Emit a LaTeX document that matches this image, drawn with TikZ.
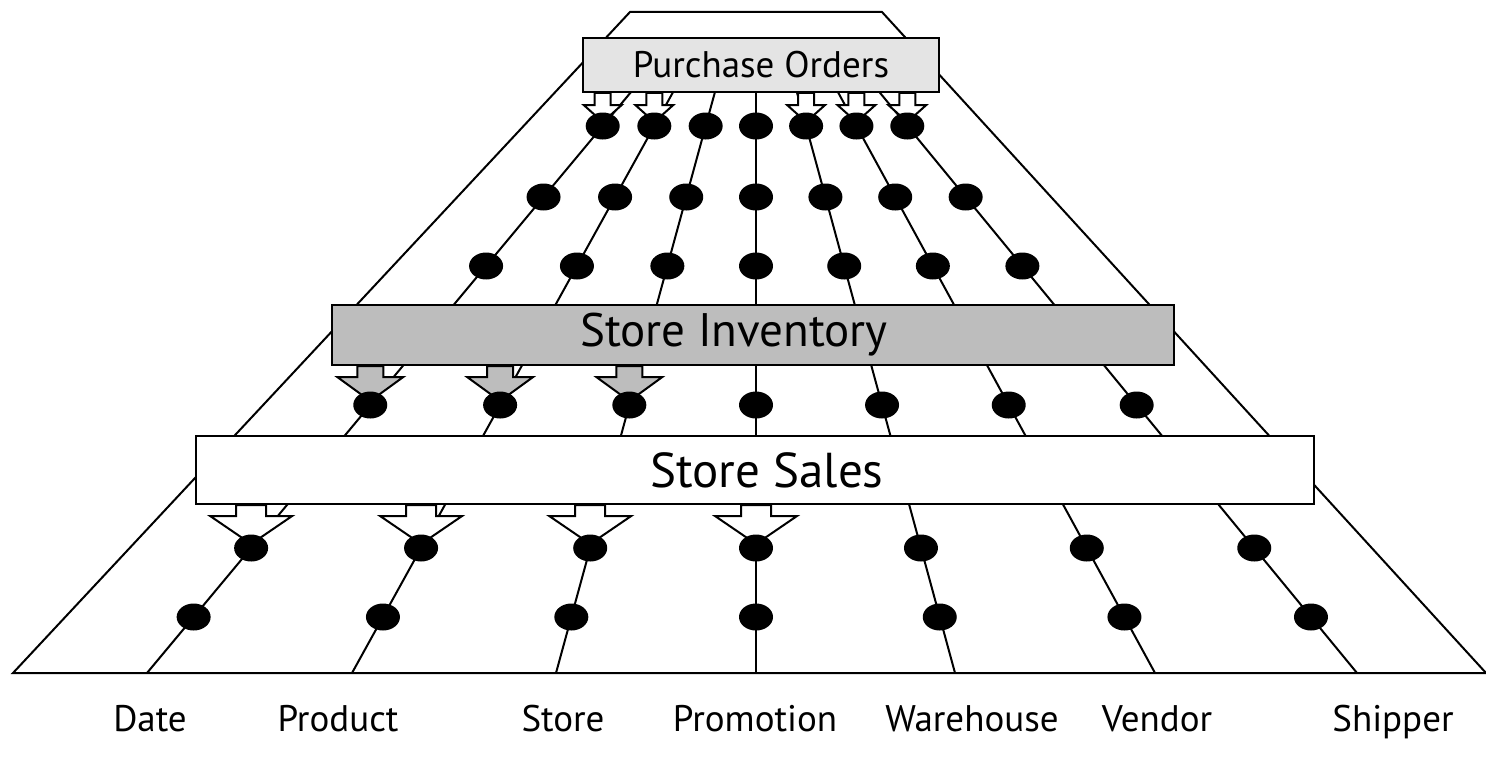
\documentclass[tikz,border=0pt]{standalone}
\usepackage{fontspec}
\setmainfont{PT Sans}
\usetikzlibrary{calc,shapes.geometric}

\definecolor{pogray}{HTML}{E4E4E4}
\definecolor{sigray}{HTML}{BDBDBD}

% block arrow from the bottom of a fact box down onto a dot
\newcommand\blockarr[6]{%
  \path (#2) ++(0,-4) coordinate (atip);
  \draw[#1] (atip) -- ++(-#5,-#6) coordinate (aneck)
    -- ++({#5-#4},0) -- ($(atip |- #3.south)+(-#4,0)$)
    -- ($(atip |- #3.south)+(#4,0)$) -- ($(aneck)+({#5+#4},0)$)
    -- ++({#5-#4},0) -- cycle;
}

\begin{document}
\begin{tikzpicture}[x=0.5pt, y=-0.5pt, line width=1pt,
  every node/.style={font=\fontsize{18.5}{20}\selectfont},
  facttable/.style={draw, line width=1pt, inner sep=0pt, align=center},
  fdot/.style={ellipse, fill=black, inner sep=0pt,
               minimum width=17pt, minimum height=13.5pt}
]
  \useasboundingbox (0,0) rectangle (1486,764);

  % outline and dimension lines
  \draw (13,673) -- (630,12) -- (882,12) -- (1486,673) -- cycle;
  \coordinate (V) at (756,-58);
  \foreach \i/\bx in {1/147,2/352,3/556,4/756,5/955,6/1155,7/1357}
    \coordinate (b\i) at (\bx,673);
  \foreach \i in {1,...,7}
    \draw (b\i) -- ($(b\i)!0.82!(V)$);
  \foreach \i in {1,...,7}
    \foreach \r/\y in {1/126,2/197,3/266,4/405,5/548,6/617}
      \coordinate (d\i-\r) at ($(b\i)!{(673-\y)/731}!(V)$);

  % fact tables
  \node[facttable, fill=pogray, minimum width=178pt, minimum height=27pt]
    (po) at (761,65) {Purchase Orders};
  \node[facttable, fill=sigray, minimum width=421pt, minimum height=30pt,
        font=\fontsize{23.5}{26}\selectfont]
    (si) at (753,335) {Store Inventory\kern19pt};
  \node[facttable, fill=white, minimum width=559pt, minimum height=34pt,
        font=\fontsize{24.5}{27}\selectfont]
    (ss) at (755,470) {\kern12pt Store Sales};

  \foreach \i in {1,2,5,6,7}
    {\blockarr{draw, fill=white}{d\i-1}{po}{8}{19}{17}}
  \foreach \i in {1,2,3}
    {\blockarr{draw, fill=sigray}{d\i-4}{si}{13}{33}{24}}
  \foreach \i in {1,...,4}
    {\blockarr{draw, fill=white}{d\i-5}{ss}{15}{41}{28}}

  \foreach \i in {1,...,7}
    \foreach \r in {1,...,6}
      \node[fdot] (dot\i-\r) at (d\i-\r) {};

  % dimension names
  \node[anchor=base] (date) at (150,731) {Date};
  \node[anchor=base] (product) at (338,731) {Product};
  \node[anchor=base] (store) at (563,731) {Store};
  \node[anchor=base] (promotion) at (755,731) {Promotion};
  \node[anchor=base] (warehouse) at (972,731) {Warehouse};
  \node[anchor=base] (vendor) at (1157,731) {Vendor};
  \node[anchor=base] (shipper) at (1393,731) {Shipper};
\end{tikzpicture}
\end{document}
